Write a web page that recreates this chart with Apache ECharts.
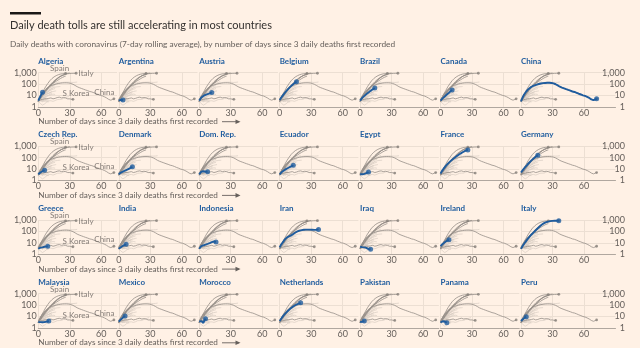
<!DOCTYPE html>
<html>
<head>
<meta charset="utf-8">
<script src="https://cdn.jsdelivr.net/npm/echarts@6/dist/echarts.min.js"></script>
<style>
  html, body { margin: 0; padding: 0; background: #fff1e5; }
  #chart { width: 640px; height: 348px; }
</style>
</head>
<body>
<div id="chart"></div>
<script>
// Panel order, row by row
const countries = [
  'Algeria', 'Argentina', 'Austria', 'Belgium', 'Brazil', 'Canada', 'China',
  'Czech Rep.', 'Denmark', 'Dom. Rep.', 'Ecuador', 'Egypt', 'France', 'Germany',
  'Greece', 'India', 'Indonesia', 'Iran', 'Iraq', 'Ireland', 'Italy',
  'Malaysia', 'Mexico', 'Morocco', 'Netherlands', 'Pakistan', 'Panama', 'Peru'
];

// Daily deaths, 7-day rolling average; index = days since 3 daily deaths first recorded
const algeria = [3.5, 5.5, 8.5, 13, 19];
const argentina = [3.5, 3.8, 4, 4, 4];
const austria = [3.5, 5, 6.5, 8, 9, 10, 11, 12, 13, 14, 15, 16.5, 18];
const belgium = [4, 5.5, 7.5, 10, 13, 17, 22, 28, 36, 45, 56, 68, 82, 98, 115, 135, 160];
const brazil = [3.5, 4.5, 6, 7.5, 9, 11, 13, 15, 18, 21, 25, 29, 34, 40, 45];
const canada = [3.5, 4.5, 5.5, 7, 8, 10, 12, 14, 17, 21, 25, 30];
const china = [
  3, 5, 8, 12, 17, 22, 28, 35, 42, 50,
  57, 64, 70, 76, 82, 88, 94, 100, 105, 110,
  114, 118, 121, 124, 126, 127, 128, 127, 125, 122,
  118, 112, 104, 95, 85, 75, 66, 58, 52, 48,
  44, 41, 38, 35, 32, 30, 28, 26, 24, 22,
  21, 20, 18, 17, 15, 14, 13, 12, 11, 10,
  9.5, 9, 8, 7.5, 7, 6, 5, 4.5, 4, 3.8,
  4, 4.5, 5
];
const czechRep = [3.5, 4.5, 5, 6, 6.5, 7.5, 8];
const denmark = [3.5, 4, 5, 5.5, 6, 7, 7.5, 8.5, 9, 10, 11, 12.5, 14, 16];
const domRep = [3.5, 5, 6, 6.5, 6.5, 6.5, 6, 6, 6];
const ecuador = [3.5, 4.5, 5.5, 6.5, 7.5, 8.5, 10, 11, 12.5, 14, 15.5, 17, 19, 22];
const egypt = [3.5, 3.5, 3.5, 3.5, 3.8, 4, 4.5, 5, 5.5];
const france = [4, 6, 8, 11, 15, 19, 24, 30, 37, 45, 55, 66, 80, 95, 112, 130, 150, 175, 200, 230, 265, 300, 340, 380, 420, 455, 480];
const germany = [5, 7, 9, 12, 15, 19, 24, 30, 38, 47, 58, 70, 85, 100, 120, 140, 160];
const greece = [3, 3.5, 3.8, 4, 4, 4.2, 4.5, 4.5, 4.8, 5];
const india = [3, 3.5, 4, 4.5, 5.5, 6, 6.5, 7.5];
const indonesia = [3, 4, 5, 5.5, 6, 6.5, 7, 7.5, 8, 8.5, 9.5, 10.5, 11.5, 12.5, 13, 12.5, 12];
const iran = [
  4, 6, 8, 11, 15, 20, 25, 30, 34, 37,
  40, 45, 52, 60, 70, 80, 90, 100, 110, 118,
  125, 130, 135, 138, 140, 142, 143, 144, 144, 143,
  142, 140, 138, 137, 138, 140, 145, 150
];
const iraq = [4.5, 4.3, 4.2, 4, 4, 3.8, 3.6, 3.3, 2.8, 2.4, 2.7];
const ireland = [5, 6.5, 8, 9.5, 11, 13, 15, 17, 18.5];
const italy = [
  3, 4, 6, 8, 11, 15, 20, 26, 33, 42,
  54, 67, 82, 100, 125, 155, 190, 235, 285, 340,
  400, 465, 530, 590, 640, 690, 730, 765, 795, 815,
  830, 845, 855, 865, 870, 875, 880
];
const malaysia = [3.2, 3.2, 3.2, 3.2, 3.1, 3.2, 3.3, 3.5, 3.6, 3.8, 4];
const mexico = [3.5, 4.5, 5.5, 6.5, 8, 9.5, 11];
const morocco = [3.5, 4, 4, 3.5, 2.7, 4.5, 6.5];
const netherlands = [4, 5.5, 7.5, 10, 13, 17, 21, 26, 32, 39, 47, 56, 66, 77, 88, 100, 112, 124, 136, 148, 160];
const pakistan = [3.2, 3.3, 3.5, 3.8, 4];
const panama = [3, 3.5, 3.8, 4, 3.6, 3.2, 2.9];
const peru = [4, 5, 6, 7, 8.5, 9.5];

// Comparison countries shown in grey in every panel
const spain = [3, 5, 8, 12, 18, 27, 40, 58, 80, 110, 150, 195, 245, 300, 360, 420, 480, 540, 600, 650, 700, 740, 780, 800, 820, 835, 840];
const us = [3, 4, 5, 7, 9, 12, 16, 21, 28, 37, 48, 62, 80, 100, 125, 155, 190, 230, 280, 340, 400, 460, 520, 580, 640, 700, 760, 810, 860, 900, 940];
const uk = [3, 4, 6, 8, 11, 15, 20, 27, 36, 48, 62, 80, 100, 125, 155, 190, 230, 275, 320, 370, 420, 470, 520, 560, 600, 640, 670];
const sKorea = [3, 3.5, 4, 4.5, 4.5, 5, 5, 5.5, 5, 5, 5.5, 6, 6, 5.5, 5, 5, 5.5, 6, 6.5, 7, 7, 6.5, 6, 6, 6.5, 7, 6, 5.5, 5, 5, 5, 4.5, 4.5, 4.5];
const japan = [3, 2.4, 1.9, 1.5, 1.4, 1.5, 1.8, 2.2, 2.6, 3, 3.3, 3.5, 3.4, 3.2, 3, 3.2, 3.5, 4, 4.3, 4.5, 4.4, 4.2, 4.5, 5, 5.5, 6, 6.5, 7, 7.5, 8];
const switzerland = [3, 4, 5, 7, 9, 12, 15, 19, 23, 27, 31, 35, 39, 43, 47, 50, 53, 55, 57, 58, 59, 60];
const sweden = [3, 4, 5, 6, 8, 10, 12, 14, 17, 20, 23, 26, 29, 32, 35, 38, 40];
const turkey = [4, 6, 8, 11, 14, 18, 22, 27, 32, 38, 44, 50, 55, 60, 64, 68, 70];
const portugal = [3, 4, 5, 6, 7, 8.5, 10, 11.5, 13, 15, 16.5, 18, 19.5, 21, 22, 23, 24, 25];

// Axis ticks
const xTicks = [0, 30, 60];
const yTicks = [1, 10, 100, 1000];
const yTickLabels = ['1', '10', '100', '1,000'];

const seriesByName = {
  'Algeria': algeria, 'Argentina': argentina, 'Austria': austria, 'Belgium': belgium,
  'Brazil': brazil, 'Canada': canada, 'China': china, 'Czech Rep.': czechRep,
  'Denmark': denmark, 'Dom. Rep.': domRep, 'Ecuador': ecuador, 'Egypt': egypt,
  'France': france, 'Germany': germany, 'Greece': greece, 'India': india,
  'Indonesia': indonesia, 'Iran': iran, 'Iraq': iraq, 'Ireland': ireland,
  'Italy': italy, 'Malaysia': malaysia, 'Mexico': mexico, 'Morocco': morocco,
  'Netherlands': netherlands, 'Pakistan': pakistan, 'Panama': panama, 'Peru': peru,
  'Spain': spain, 'US': us, 'UK': uk, 'S Korea': sKorea, 'Japan': japan,
  'Switzerland': switzerland, 'Sweden': sweden, 'Turkey': turkey, 'Portugal': portugal
};
const greyNames = Object.keys(seriesByName);
const darkGrey = new Set(['Italy', 'Spain', 'US', 'UK', 'France', 'China', 'S Korea']);
// Labelled comparison lines (label offset from the end point, in px)
const labelled = {
  'Spain': [-6, -5.5],
  'Italy': [10, 0.5],
  'S Korea': [3, -5.5],
  'China': [-9.5, -6.5]
};

const FONT = 'Lato, "Noto Sans", sans-serif';
const BLUE = '#1f5c9e';
const TEXT = '#66605c';
const LIGHT = '#d8cdc3';
const DARK = '#958e88';
const GRIDLINE = '#ecdfd3';

const COLS = 7;
const X0 = 38.3, DX = 80.45, TOP0 = 72.6, DY = 73.7, H = 34.2, PX_PER_DAY = 1.05;

const toPairs = arr => arr.map((v, d) => [d, v]);

const grids = [], xAxes = [], yAxes = [], series = [], graphics = [];

countries.forEach((name, i) => {
  const r = Math.floor(i / COLS), c = i % COLS;
  const lastCol = c === COLS - 1;
  const xMax = lastCol ? 90 : 75;
  const left = X0 + c * DX, top = TOP0 + r * DY;
  grids.push({ left, top, width: xMax * PX_PER_DAY, height: H });

  xAxes.push({
    gridIndex: i, type: 'value', min: 0, max: xMax, interval: 30,
    axisLine: { show: true, onZero: false, lineStyle: { color: '#b0a79f', width: 1 } },
    axisTick: { show: false },
    axisLabel: {
      showMaxLabel: false, margin: 1.5, color: TEXT, fontSize: 9, fontFamily: FONT,
      formatter: v => (xTicks.includes(v) ? String(v) : '')
    },
    splitLine: { show: true, showMaxLine: false, lineStyle: { color: GRIDLINE, width: 1 } }
  });

  yAxes.push({
    gridIndex: i, type: 'log', logBase: 10, min: 1, max: 1000,
    position: lastCol ? 'right' : 'left',
    axisLine: { show: false }, axisTick: { show: false },
    axisLabel: {
      show: c === 0 || lastCol, color: TEXT, fontSize: 9, fontFamily: FONT,
      align: 'right', margin: lastCol ? 9.5 : 1.5,
      formatter: v => { const k = yTicks.indexOf(Math.round(v)); return k < 0 ? '' : yTickLabels[k]; }
    },
    splitLine: { show: true, showMinLine: false, lineStyle: { color: GRIDLINE, width: 1 } }
  });

  // grey comparison lines
  greyNames.forEach(g => {
    const dark = darkGrey.has(g);
    series.push({
      type: 'line', xAxisIndex: i, yAxisIndex: i, data: toPairs(seriesByName[g]),
      symbol: 'none', silent: true, z: dark ? 2 : 1,
      lineStyle: { color: dark ? DARK : LIGHT, width: dark ? 0.8 : 0.7 }
    });
  });

  // end dots of labelled comparison lines
  series.push({
    type: 'scatter', xAxisIndex: i, yAxisIndex: i, silent: true, z: 3,
    symbolSize: 2.8, itemStyle: { color: '#857e78' },
    data: Object.keys(labelled).map(g => {
      const arr = seriesByName[g];
      return {
        name: g, value: [arr.length - 1, arr[arr.length - 1]],
        label: {
          show: c === 0, position: 'inside', offset: labelled[g], formatter: g,
          color: TEXT, fontSize: 8, fontFamily: FONT
        }
      };
    })
  });

  // highlighted country
  const own = seriesByName[name];
  series.push({
    type: 'line', xAxisIndex: i, yAxisIndex: i, data: toPairs(own),
    symbol: 'none', silent: true, z: 4,
    lineStyle: { color: BLUE, width: 1.9 }
  });
  series.push({
    type: 'scatter', xAxisIndex: i, yAxisIndex: i, silent: true, z: 5,
    symbolSize: 5, itemStyle: { color: BLUE },
    data: [[own.length - 1, own[own.length - 1]]]
  });

  // panel title
  graphics.push({
    type: 'text', x: left, y: top - 11.5,
    style: { text: name, fill: BLUE, font: 'bold 8px ' + FONT, align: 'left', verticalAlign: 'middle' }
  });
});

// axis caption with arrow, one per row
for (let r = 0; r < 4; r++) {
  const y = 121.7 + r * 73.7;
  graphics.push({
    type: 'text', x: 38.3, y,
    style: { text: 'Number of days since 3 daily deaths first recorded', fill: TEXT, font: '8.2px ' + FONT, align: 'left', verticalAlign: 'middle' }
  });
  graphics.push({ type: 'line', shape: { x1: 222, y1: y, x2: 239, y2: y }, style: { stroke: TEXT, lineWidth: 0.9 } });
  graphics.push({ type: 'polygon', shape: { points: [[235.5, y - 2.3], [240.5, y], [235.5, y + 2.3]] }, style: { fill: TEXT } });
}

// header
graphics.push({ type: 'rect', shape: { x: 10, y: 12, width: 31, height: 2.5 }, style: { fill: '#1a1817' } });
graphics.push({
  type: 'text', x: 10, y: 25,
  style: { text: 'Daily death tolls are still accelerating in most countries', fill: '#33302e', font: '11px ' + FONT, align: 'left', verticalAlign: 'middle' }
});
graphics.push({
  type: 'text', x: 10, y: 44,
  style: { text: 'Daily deaths with coronavirus (7-day rolling average), by number of days since 3 daily deaths first recorded', fill: TEXT, font: '8.3px ' + FONT, align: 'left', verticalAlign: 'middle' }
});

const chart = echarts.init(document.getElementById('chart'), null, { renderer: 'canvas' });
chart.setOption({
  backgroundColor: '#fff1e5',
  animation: false,
  grid: grids,
  xAxis: xAxes,
  yAxis: yAxes,
  series,
  graphic: graphics
});
</script>
</body>
</html>
